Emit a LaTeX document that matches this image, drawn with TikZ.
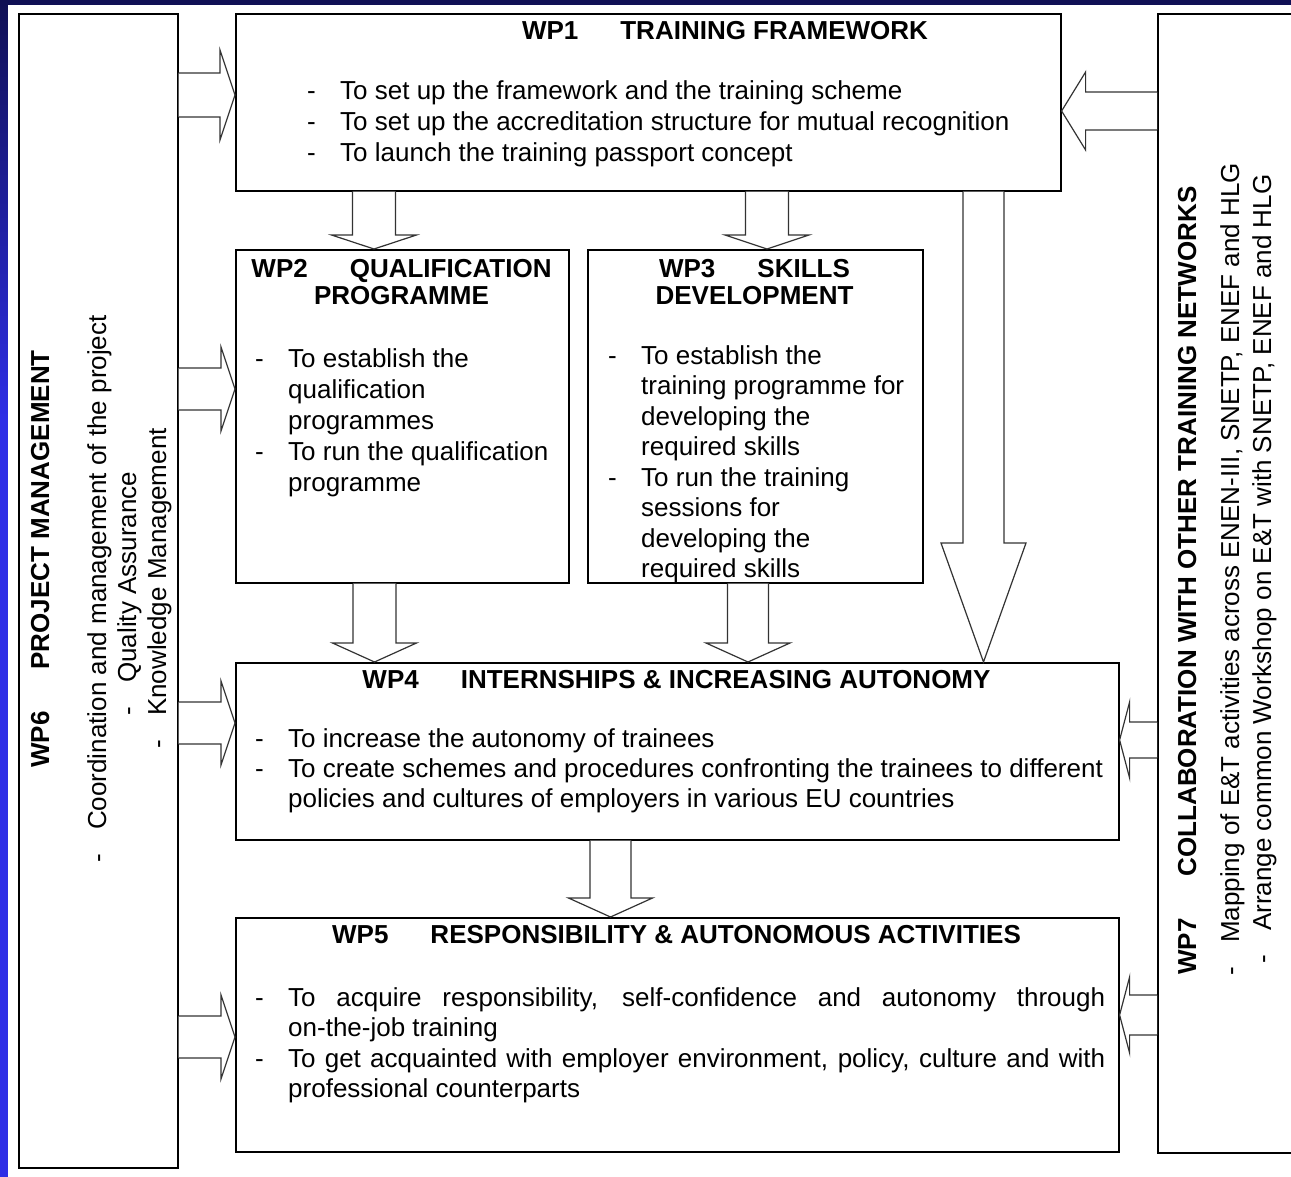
\documentclass[tikz,border=0pt]{standalone}
\usepackage{fontspec}
\setmainfont{Liberation Sans}
\usetikzlibrary{calc}

\definecolor{slidenavy}{RGB}{16,16,84}
\definecolor{slideblue}{RGB}{46,46,230}

\newcommand{\wptitle}[2]{\textbf{WP#1}\hspace{42pt}\textbf{#2}}
\newcommand{\dashitem}{\makebox[33pt][l]{-}}
% block arrow from #1 to #2: shaft half width #3, head half width #4, head length #5
\newcommand{\fatarrow}[5]{%
  \path (#1) coordinate (fa-s) (#2) coordinate (fa-e);
  \coordinate (fa-h) at ($(fa-e)!#5!(fa-s)$);
  \filldraw[fat] ($(fa-s)!#3!90:(fa-e)$) -- ($(fa-h)!#3!90:(fa-e)$) -- ($(fa-h)!#4!90:(fa-e)$)
    -- (fa-e) -- ($(fa-h)!#4!-90:(fa-e)$) -- ($(fa-h)!#3!-90:(fa-e)$) -- ($(fa-s)!#3!-90:(fa-e)$);
}

\begin{document}
\begin{tikzpicture}[
  x=1pt, y=-1pt,
  box/.style={draw, line width=1.6pt, anchor=north west, inner sep=0pt},
  fat/.style={fill=white, draw=black!80, line width=1.2pt, line join=miter},
  txt/.style={inner sep=0pt, font=\fontsize{26pt}{31pt}\selectfont},
  vtxt/.style={txt, rotate=90, anchor=base west}
]
\useasboundingbox (0,0) rectangle (1291,1177);
\clip (0,0) rectangle (1291,1177);

% slide background
\shade[top color=slidenavy, bottom color=slideblue] (0,0) rectangle (1291,420);
\fill[slideblue] (0,419) rectangle (1291,1177);
\fill[white] (8,5) rectangle (1291,1177);

% boxes
\node[box, minimum width=159pt, minimum height=1154pt] (wp6) at (18,13) {};
\node[box, minimum width=825pt, minimum height=177pt] (wp1) at (235,13) {};
\node[box, minimum width=160pt, minimum height=1139pt] (wp7) at (1157,13) {};
\node[box, minimum width=333pt, minimum height=333pt] (wp2) at (235,249) {};
\node[box, minimum width=335pt, minimum height=333pt] (wp3) at (587,249) {};
\node[box, minimum width=883pt, minimum height=177pt] (wp4) at (235,662) {};
\node[box, minimum width=883pt, minimum height=234pt] (wp5) at (235,917) {};

% rows and columns of the arrows
\coordinate (a1) at (0,95);
\coordinate (a2) at (0,389);
\coordinate (a4) at (0,723);
\coordinate (a5) at (0,1037);
\coordinate (b1) at (0,111);
\coordinate (b4) at (0,740);
\coordinate (b5) at (0,1015);
\coordinate (c2) at (374,0);
\coordinate (c3) at (767,0);
\coordinate (c4) at (983.5,0);
\coordinate (d2) at (374.5,0);
\coordinate (d3) at (748,0);
\coordinate (d4) at (610.5,0);

\fatarrow{wp6.east |- a1}{wp1.west |- a1}{22pt}{45pt}{15pt}
\fatarrow{wp6.east |- a2}{wp2.west |- a2}{21pt}{42pt}{14pt}
\fatarrow{wp6.east |- a4}{wp4.west |- a4}{21pt}{42pt}{14pt}
\fatarrow{wp6.east |- a5}{wp5.west |- a5}{21pt}{42pt}{14pt}
\fatarrow{wp7.west |- b1}{wp1.east |- b1}{19pt}{39pt}{24pt}
\fatarrow{wp7.west |- b4}{wp4.east |- b4}{18pt}{38pt}{10pt}
\fatarrow{wp7.west |- b5}{wp5.east |- b5}{20pt}{38pt}{10pt}
\fatarrow{wp1.south -| c2}{wp2.north -| c2}{21.5pt}{42.5pt}{14pt}
\fatarrow{wp1.south -| c3}{wp3.north -| c3}{21.5pt}{42pt}{14pt}
\fatarrow{wp1.south -| c4}{wp4.north -| c4}{20.5pt}{42.5pt}{119pt}
\fatarrow{wp2.south -| d2}{wp4.north -| d2}{21.5pt}{42pt}{19pt}
\fatarrow{wp3.south -| d3}{wp4.north -| d3}{20.5pt}{42pt}{19pt}
\fatarrow{wp4.south -| d4}{wp5.north -| d4}{20.5pt}{42pt}{19pt}

% WP1
\node[txt, anchor=base] (wp1title) at (725,40) {\wptitle{1}{TRAINING FRAMEWORK}};
\node[txt, anchor=base west] (wp1list) at (307,100) {\begin{tabular}[t]{@{}p{33pt}@{}l@{}}
- & To set up the framework and the training scheme\\
- & To set up the accreditation structure for mutual recognition\\
- & To launch the training passport concept\end{tabular}};

% WP2
\node[txt, anchor=base] (wp2title) at (401.5,277) {\wptitle{2}{QUALIFICATION}};
\node[txt, anchor=base] (wp2title2) at (401.5,305) {\textbf{PROGRAMME}};
\node[txt, anchor=base west] (wp2list) at (255,367) {\begin{tabular}[t]{@{}p{33pt}@{}l@{}}
- & To establish the\\
  & qualification\\
  & programmes\\
- & To run the qualification\\
  & programme\end{tabular}};

% WP3
\node[txt, anchor=base] (wp3title) at (754.5,277) {\wptitle{3}{SKILLS}};
\node[txt, anchor=base] (wp3title2) at (754.5,305) {\textbf{DEVELOPMENT}};
\node[txt, anchor=base west, font=\fontsize{26pt}{30.5pt}\selectfont] (wp3list) at (608,364) {\begin{tabular}[t]{@{}p{33pt}@{}l@{}}
- & To establish the\\
  & training programme for\\
  & developing the\\
  & required skills\\
- & To run the training\\
  & sessions for\\
  & developing the\\
  & required skills\end{tabular}};

% WP4
\node[txt, anchor=base] (wp4title) at (676.5,688) {\wptitle{4}{INTERNSHIPS \& INCREASING AUTONOMY}};
\node[txt, anchor=base west, font=\fontsize{26pt}{30pt}\selectfont] (wp4list) at (255,747) {\begin{tabular}[t]{@{}p{33pt}@{}l@{}}
- & To increase the autonomy of trainees\\
- & To create schemes and procedures confronting the trainees to different\\
  & policies and cultures of employers in various EU countries\end{tabular}};

% WP5
\node[txt, anchor=base] (wp5title) at (676.5,943) {\wptitle{5}{RESPONSIBILITY \& AUTONOMOUS ACTIVITIES}};
\node[txt, anchor=base west, font=\fontsize{26pt}{30.5pt}\selectfont] (wp5list) at (255,1006) {\begin{tabular}[t]{@{}p{33pt}@{}l@{}}
- & \makebox[817pt][s]{To acquire responsibility, self-confidence and autonomy through}\\
  & on-the-job training\\
- & \makebox[817pt][s]{To get acquainted with employer environment, policy, culture and with}\\
  & professional counterparts\end{tabular}};

% WP6 (vertical)
\node[vtxt] (wp6title) at (49,768) {\wptitle{6}{PROJECT MANAGEMENT}};
\node[vtxt] (wp6a) at (106,863) {\dashitem Coordination and management of the project};
\node[vtxt] (wp6b) at (136,716) {\dashitem Quality Assurance};
\node[vtxt] (wp6c) at (166,749) {\dashitem Knowledge Management};

% WP7 (vertical)
\node[vtxt] (wp7title) at (1196,975) {\wptitle{7}{COLLABORATION WITH OTHER TRAINING NETWORKS}};
\node[vtxt] (wp7a) at (1239,976) {\dashitem Mapping of E\&T activities across ENEN-III, SNETP, ENEF and HLG};
\node[vtxt] (wp7b) at (1271,964) {\dashitem Arrange common Workshop on E\&T with SNETP, ENEF and HLG};
\end{tikzpicture}
\end{document}
